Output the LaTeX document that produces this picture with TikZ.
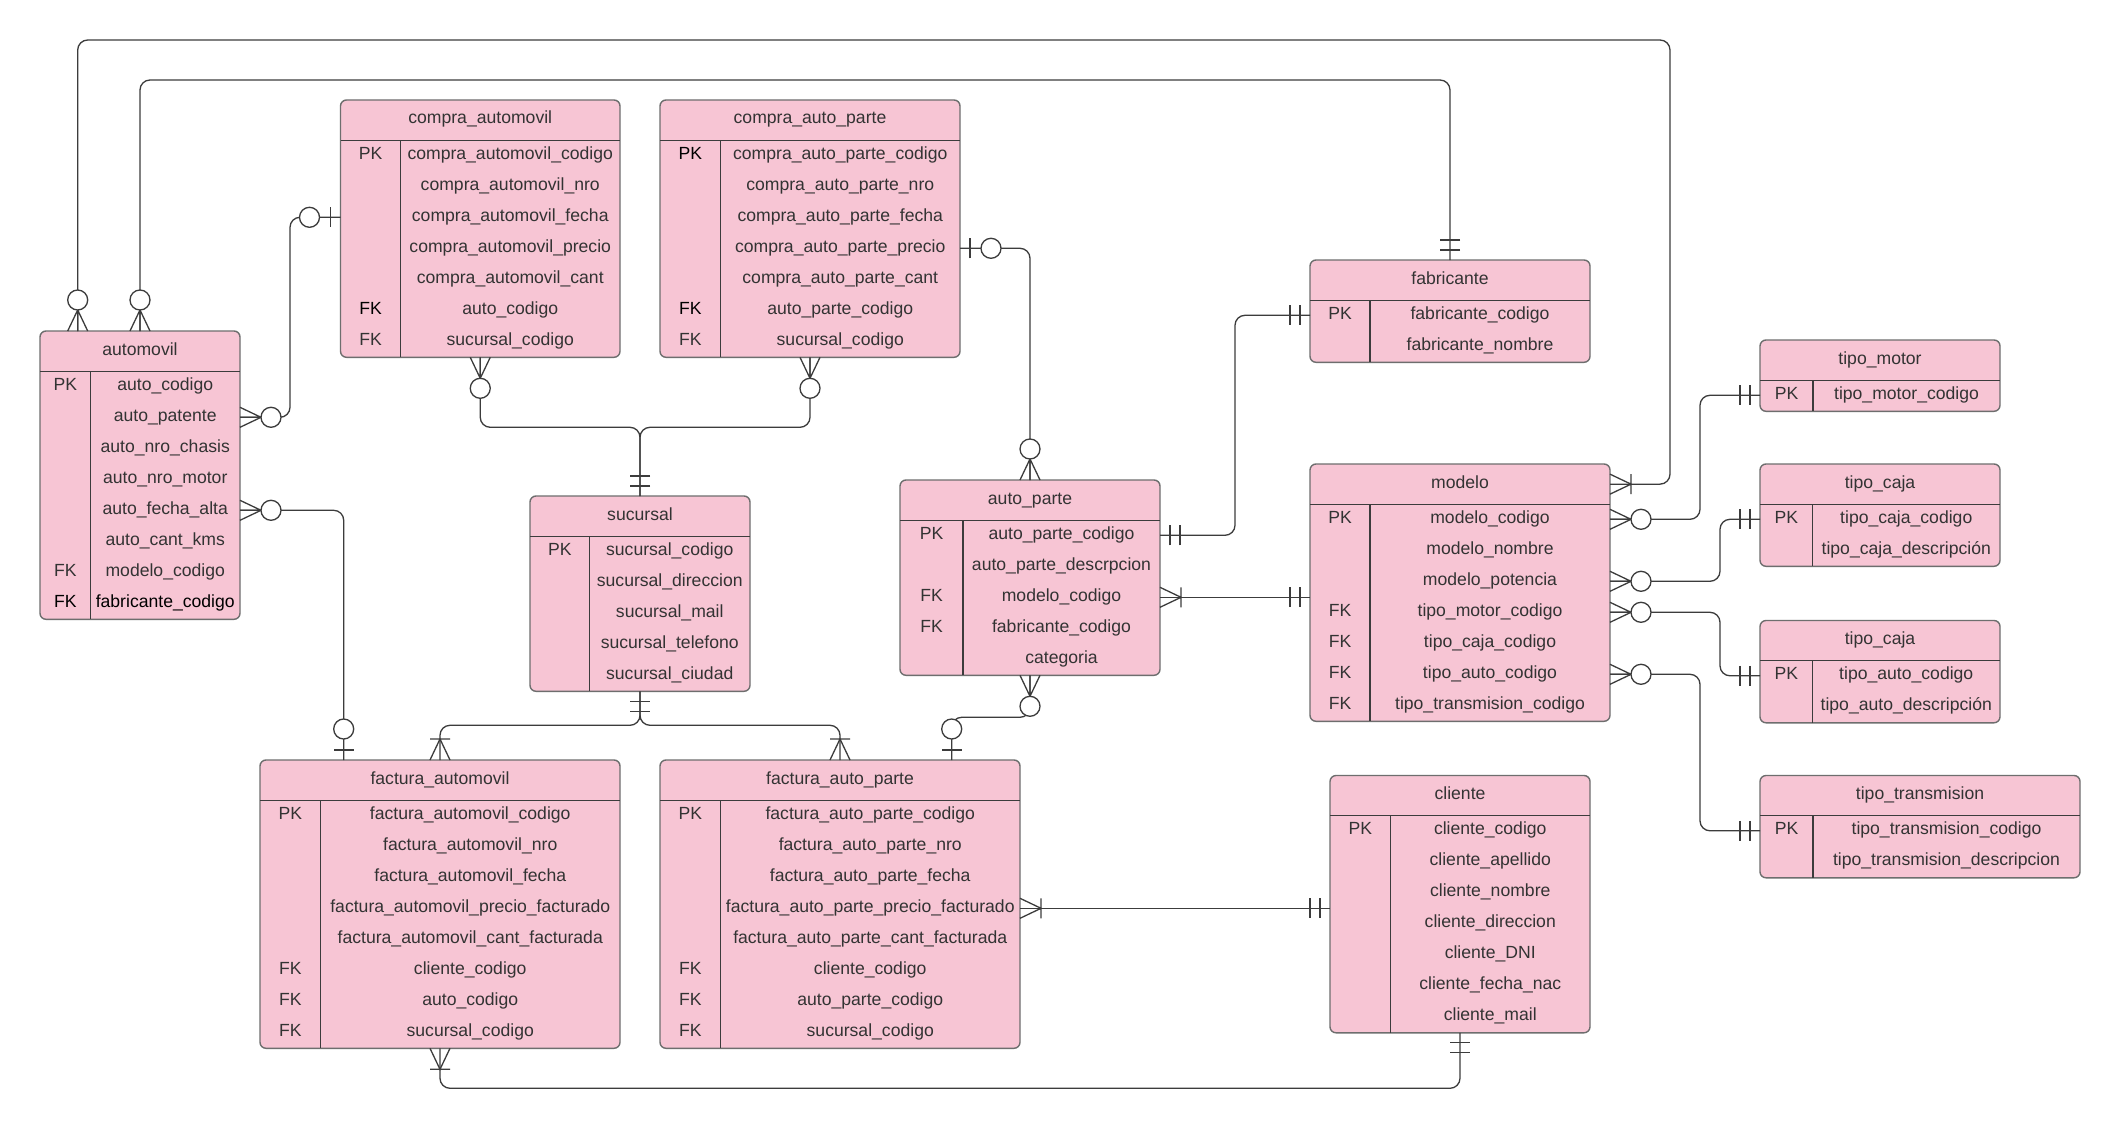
\documentclass[tikz,border=0pt]{standalone}
\usepackage{fontspec}
\setmainfont{Liberation Sans}
\usetikzlibrary{calc}
\definecolor{pinkfill}{RGB}{247,197,212}
\definecolor{txt}{HTML}{333333}
\definecolor{lin}{HTML}{3C3C3C}
\definecolor{bord}{HTML}{6E6E6E}
\newcommand\bk[1]{\textcolor{black}{#1}}
\tikzset{
  tbl/.style={draw=bord, line width=1.4pt, fill=pinkfill, rounded corners=6pt, inner sep=0pt, outer sep=0pt, rectangle},
  sepline/.style={draw=lin, line width=1.3pt},
  ttl/.style={text=txt, font=\fontsize{17.6}{20}\selectfont, inner sep=0pt},
  cell/.style={text=txt, font=\fontsize{17.6}{20}\selectfont, inner sep=0pt, anchor=base},
  conn/.style={draw=lin, line width=1.3pt, rounded corners=10pt},
  mk/.style={draw=lin, line width=1.3pt},
}
% #1 name, #2 xl, #3 xr, #4 top, #5 col, #6 nrows, #7 title, #8 rows
\newcommand\ertable[8]{%
  \pgfmathsetmacro\tw{#3-#2}%
  \pgfmathsetmacro\th{40.3+31*#6}%
  \pgfmathsetmacro\hy{#4+40.3}%
  \pgfmathsetmacro\by{#4+\th}%
  \pgfmathsetmacro\xc{(#2+#3)/2}%
  \pgfmathsetmacro\kc{(#2+#5)/2}%
  \pgfmathsetmacro\fc{(#5+#3)/2}%
  \pgfmathsetmacro\ty{#4+24}%
  \pgfmathsetmacro\hc{#4+20.15}%
  \node[tbl, minimum width=\tw pt, minimum height=\th pt, anchor=north west] (#1) at (#2,#4) {};
  \draw[sepline] (#2,\hy) -- (#3,\hy);
  \draw[sepline] (#5,\hy) -- (#5,\by);
  \coordinate (#1-h) at (\xc,\hc);
  \node[ttl, anchor=base] (#1-t) at (\xc,\ty) {#7};
  \foreach \k/\f [count=\i] in {#8}{%
    \pgfmathsetmacro\ry{\hy+19+31*(\i-1)}%
    \pgfmathsetmacro\rc{\hy+15+31*(\i-1)}%
    \coordinate (#1-r\i) at (\xc,\rc);
    \node[cell] (#1-f\i) at (\fc,\ry) {\f};
    \if\relax\detokenize\expandafter{\k}\relax\else
      \node[cell] (#1-k\i) at (\kc,\ry) {\k};
    \fi
  }%
}
% end marks: #1 point, #2 outward angle
\newcommand\mkzm[2]{\begin{scope}[shift={(#1)},rotate=#2]
  \draw[mk] (0,10)--(21,0)--(0,-10) (0,0)--(21,0);
  \draw[mk,fill=white] (31,0) circle[radius=10pt];
\end{scope}}
\newcommand\mkzo[2]{\begin{scope}[shift={(#1)},rotate=#2]
  \draw[mk] (10,10)--(10,-10);
  \draw[mk,fill=white] (31,0) circle[radius=10pt];
\end{scope}}
\newcommand\mkoo[2]{\begin{scope}[shift={(#1)},rotate=#2]
  \draw[mk] (10,10)--(10,-10) (20,10)--(20,-10);
\end{scope}}
\newcommand\mkom[2]{\begin{scope}[shift={(#1)},rotate=#2]
  \draw[mk] (0,10)--(21,0)--(0,-10) (21,10)--(21,-10);
\end{scope}}

\begin{document}
\begin{tikzpicture}[x=1pt,y=-1pt]
\useasboundingbox (0,0) rectangle (2120,1129);
\fill[white] (0,0) rectangle (2120,1129);

% ---------- tables ----------
\ertable{automovil}{40}{240}{331}{90.5}{8}{automovil}{PK/auto\_codigo, /auto\_patente, /auto\_nro\_chasis, /auto\_nro\_motor, /auto\_fecha\_alta, /auto\_cant\_kms, FK/modelo\_codigo, \bk{FK}/\bk{fabricante\_codigo}}
\ertable{compraauto}{340.5}{620}{100}{400.5}{7}{compra\_automovil}{PK/compra\_automovil\_codigo, /compra\_automovil\_nro, /compra\_automovil\_fecha, /compra\_automovil\_precio, /compra\_automovil\_cant, \bk{FK}/auto\_codigo, FK/sucursal\_codigo}
\ertable{compraparte}{660}{960}{100}{720.5}{7}{compra\_auto\_parte}{\bk{PK}/compra\_auto\_parte\_codigo, /compra\_auto\_parte\_nro, /compra\_auto\_parte\_fecha, /compra\_auto\_parte\_precio, /compra\_auto\_parte\_cant, \bk{FK}/auto\_parte\_codigo, FK/sucursal\_codigo}
\ertable{sucursal}{530}{750}{496}{589.5}{5}{sucursal}{PK/sucursal\_codigo, /sucursal\_direccion, /sucursal\_mail, /sucursal\_telefono, /sucursal\_ciudad}
\ertable{autoparte}{900}{1160}{480}{963}{5}{auto\_parte}{PK/auto\_parte\_codigo, /auto\_parte\_descrpcion, FK/modelo\_codigo, FK/fabricante\_codigo, /categoria}
\ertable{fabricante}{1310}{1590}{260}{1370}{2}{fabricante}{PK/fabricante\_codigo, /fabricante\_nombre}
\ertable{modelo}{1310}{1610}{464}{1370}{7}{modelo}{PK/modelo\_codigo, /modelo\_nombre, /modelo\_potencia, FK/tipo\_motor\_codigo, FK/tipo\_caja\_codigo, FK/tipo\_auto\_codigo, FK/tipo\_transmision\_codigo}
\ertable{tipomotor}{1760}{2000}{340}{1813}{1}{tipo\_motor}{PK/tipo\_motor\_codigo}
\ertable{tipocaja}{1760}{2000}{464}{1812.5}{2}{tipo\_caja}{PK/tipo\_caja\_codigo, /tipo\_caja\_descripción}
\ertable{tipoauto}{1760}{2000}{620.5}{1812.5}{2}{tipo\_caja}{PK/tipo\_auto\_codigo, /tipo\_auto\_descripción}
\ertable{tipotrans}{1760}{2080}{775.5}{1813}{2}{tipo\_transmision}{PK/tipo\_transmision\_codigo, /tipo\_transmision\_descripcion}
\ertable{cliente}{1330}{1590}{775.5}{1390.5}{7}{cliente}{PK/cliente\_codigo, /cliente\_apellido, /cliente\_nombre, /cliente\_direccion, /cliente\_DNI, /cliente\_fecha\_nac, /cliente\_mail}
\ertable{facturaauto}{260}{620}{760}{320.5}{8}{factura\_automovil}{PK/factura\_automovil\_codigo, /factura\_automovil\_nro, /factura\_automovil\_fecha, /factura\_automovil\_precio\_facturado, /factura\_automovil\_cant\_facturada, FK/cliente\_codigo, FK/auto\_codigo, FK/sucursal\_codigo}
\ertable{facturaparte}{660}{1020}{760}{720.5}{8}{factura\_auto\_parte}{PK/factura\_auto\_parte\_codigo, /factura\_auto\_parte\_nro, /factura\_auto\_parte\_fecha, /factura\_auto\_parte\_precio\_facturado, /factura\_auto\_parte\_cant\_facturada, FK/cliente\_codigo, FK/auto\_parte\_codigo, FK/sucursal\_codigo}

% ---------- connector end points ----------
\coordinate (A1) at ([xshift=37.7pt]automovil.north west);
\coordinate (A2) at (automovil.north);
\coordinate (A3) at (automovil.east |- automovil-r2);
\coordinate (A4) at (automovil.east |- automovil-r5);
\coordinate (CA1) at (compraauto.west |- compraauto-r3);
\coordinate (CA2) at (compraauto.south);
\coordinate (CP1) at (compraparte.south);
\coordinate (CP2) at (compraparte.east |- compraparte-r4);
\coordinate (SU1) at (sucursal.north);
\coordinate (SU2) at (sucursal.south);
\coordinate (AP1) at (autoparte.north);
\coordinate (AP2) at (autoparte.east |- autoparte-r1);
\coordinate (AP3) at (autoparte.east |- autoparte-r3);
\coordinate (AP4) at (autoparte.south);
\coordinate (FA1) at (fabricante.north);
\coordinate (FA2) at (fabricante.west |- fabricante-r1);
\coordinate (MO0) at (modelo.east |- modelo-h);
\coordinate (MO1) at (modelo.west |- AP3);
\coordinate (MO2) at (modelo.east |- modelo-r1);
\coordinate (MO3) at (modelo.east |- modelo-r3);
\coordinate (MO4) at (modelo.east |- modelo-r4);
\coordinate (MO6) at (modelo.east |- modelo-r6);
\coordinate (TM) at (tipomotor.west |- tipomotor-r1);
\coordinate (TC) at (tipocaja.west |- tipocaja-r1);
\coordinate (TA) at (tipoauto.west |- tipoauto-r1);
\coordinate (TT) at (tipotrans.west |- tipotrans-r1);
\coordinate (FU1) at ([xshift=83.7pt]facturaauto.north west);
\coordinate (FU2) at (facturaauto.north);
\coordinate (FU3) at (facturaauto.south);
\coordinate (FP1) at (facturaparte.north);
\coordinate (FP2) at ([xshift=291.7pt]facturaparte.north west);
\coordinate (FP3) at (facturaparte.east |- facturaparte-r4);
\coordinate (CL1) at (cliente.west |- FP3);
\coordinate (CL2) at (cliente.south);

% ---------- connectors ----------
\draw[conn] (A1) |- (1670,40) |- (MO0);
\draw[conn] (A2) |- (FA1 |- 0,80) -- (FA1);
\draw[conn] (A3) -| ($(CA1)+(-50.5,0)$) -- (CA1);
\draw[conn] (A4) -| (FU1);
\draw[conn] (CA2) |- ($(SU1)+(0,-68.7)$) -- (SU1);
\draw[conn] (CP1) |- ($(SU1)+(0,-68.7)$) -- (SU1);
\draw[conn] (CP2) -| (AP1);
\draw[conn] (AP2) -| ($(FA2)+(-75,0)$) -- (FA2);
\draw[conn] (AP3) -- (MO1);
\draw[conn] (MO2) -| ($(TM)+(-60,0)$) -- (TM);
\draw[conn] (MO3) -| ($(TC)+(-40,0)$) -- (TC);
\draw[conn] (MO4) -| ($(TA)+(-40,0)$) -- (TA);
\draw[conn] (MO6) -| ($(TT)+(-60,0)$) -- (TT);
\draw[conn] (SU2) |- ($(FU2)+(0,-34.7)$) -- (FU2);
\draw[conn] (SU2) |- ($(FP1)+(0,-34.7)$) -- (FP1);
\draw[conn] (AP4) |- ($(FP2)+(0,-42.7)$) -- (FP2);
\draw[conn] (FP3) -- (CL1);
\draw[conn] (FU3) |- ($(CL2)+(0,55.5)$) -- (CL2);

% ---------- end marks ----------
\mkzm{A1}{90} \mkzm{A2}{90} \mkzm{A3}{0} \mkzm{A4}{0}
\mkzo{CA1}{180} \mkzm{CA2}{-90}
\mkzm{CP1}{-90} \mkzo{CP2}{0}
\mkoo{SU1}{90} \mkoo{SU2}{-90}
\mkzm{AP1}{90} \mkoo{AP2}{0} \mkom{AP3}{0} \mkzm{AP4}{-90}
\mkoo{FA1}{90} \mkoo{FA2}{180}
\mkom{MO0}{0} \mkoo{MO1}{180}
\mkzm{MO2}{0} \mkzm{MO3}{0} \mkzm{MO4}{0} \mkzm{MO6}{0}
\mkoo{TM}{180} \mkoo{TC}{180} \mkoo{TA}{180} \mkoo{TT}{180}
\mkzo{FU1}{90} \mkom{FU2}{90} \mkom{FU3}{-90}
\mkom{FP1}{90} \mkzo{FP2}{90} \mkom{FP3}{0}
\mkoo{CL1}{180} \mkoo{CL2}{-90}
\end{tikzpicture}
\end{document}
